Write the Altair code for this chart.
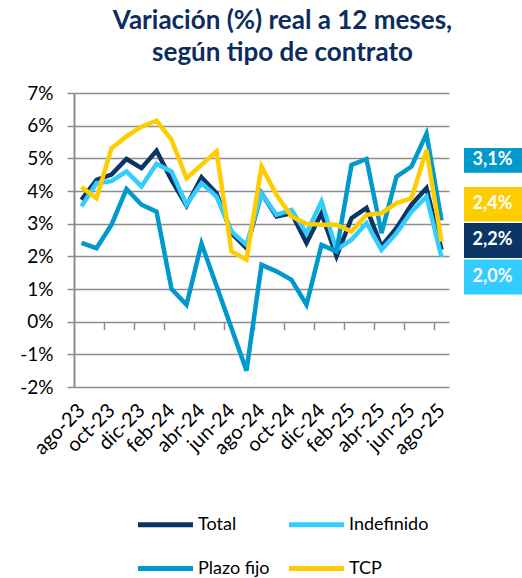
import altair as alt
import pandas as pd

months = ["ago-23", "sep-23", "oct-23", "nov-23", "dic-23", "ene-24", "feb-24",
          "mar-24", "abr-24", "may-24", "jun-24", "jul-24", "ago-24", "sep-24",
          "oct-24", "nov-24", "dic-24", "ene-25", "feb-25", "mar-25", "abr-25",
          "may-25", "jun-25", "jul-25", "ago-25"]

total = [3.73, 4.34, 4.5, 4.98, 4.7, 5.23, 4.34, 3.55, 4.42, 3.93, 2.71, 2.25, 3.93,
         3.22, 3.32, 2.41, 3.32, 2.0, 3.17, 3.48, 2.3, 2.87, 3.58, 4.09, 2.2]
indefinido = [3.53, 4.24, 4.3, 4.6, 4.14, 4.83, 4.6, 3.58, 4.24, 3.83, 2.76, 2.35, 3.93,
              3.27, 3.42, 2.71, 3.68, 2.2, 2.51, 3.02, 2.2, 2.71, 3.37, 3.83, 1.98]
plazo_fijo = [2.41, 2.25, 2.97, 4.06, 3.58, 3.37, 1.0, 0.52, 2.39, 1.1, -0.2, -1.5, 1.74,
              1.54, 1.28, 0.52, 2.35, 2.15, 4.8, 4.98, 2.71, 4.44, 4.75, 5.75, 3.1]
tcp = [4.12, 3.78, 5.31, 5.67, 5.97, 6.15, 5.57, 4.39, 4.8, 5.21, 2.15, 1.9, 4.75,
       3.88, 3.22, 3.0, 2.97, 2.97, 2.76, 3.27, 3.32, 3.63, 3.78, 5.26, 2.45]

series_names = ["Total", "Indefinido", "Plazo fijo", "TCP"]
series_colors = ["#0B3564", "#33CCFF", "#0099CC", "#FFCC00"]
legend_order = ["Total", "Plazo fijo", "Indefinido", "TCP"]

# end-of-period labels (text) and their stacked box slots
end_labels = ["3,1%", "2,4%", "2,2%", "2,0%"]
end_colors = ["#0099CC", "#FFCC00", "#0B3564", "#33CCFF"]
box_y_top = [5.32, 4.12, 3.02, 1.9]
box_y_bot = [4.56, 3.07, 1.95, 0.83]

FONT = "Lato"
W, H = 375, 294
PAD_L, PAD_T = 74, 93

rows = []
for name, vals in zip(series_names, [total, indefinido, plazo_fijo, tcp]):
    for i, v in enumerate(vals):
        rows.append({"idx": i, "mes": months[i], "serie": name, "valor": v})
df = pd.DataFrame(rows)

lab_df = pd.DataFrame({
    "txt": end_labels, "col": end_colors,
    "y1": box_y_top, "y2": box_y_bot,
    "ym": [(a + b) / 2 for a, b in zip(box_y_top, box_y_bot)],
})

label_expr = "[" + ",".join("'%s'" % m for m in months) + "][round(datum.value)]"

xscale = alt.Scale(domain=[-0.5, 24.5], nice=False, zero=False)
yscale = alt.Scale(domain=[-2, 7], nice=False, zero=False)

lines = alt.Chart(df).mark_line(strokeWidth=4.5, strokeJoin="miter", clip=False).encode(
    x=alt.X("idx:Q", scale=xscale,
            axis=alt.Axis(values=list(range(0, 25, 2)), labelExpr=label_expr,
                          labelAngle=-45, labelAlign="right", labelBaseline="middle",
                          labelFont=FONT, labelFontSize=20, labelColor="#000000",
                          labelPadding=20, ticks=False, domain=False, grid=False,
                          title=None, orient="bottom", labelOverlap=False)),
    y=alt.Y("valor:Q", scale=yscale,
            axis=alt.Axis(values=list(range(-2, 8)), labelExpr="datum.value + '%'",
                          labelFont=FONT, labelFontSize=19, labelColor="#000000",
                          labelPadding=14, tickSize=7, tickColor="#8C8C8C", tickWidth=1.5,
                          domainColor="#8C8C8C", domainWidth=2, labelOverlap=False,
                          grid=True, gridColor="#8C8C8C", gridWidth=1.5, title=None,
                          orient="left")),
    color=alt.Color("serie:N", scale=alt.Scale(domain=series_names, range=series_colors),
                    legend=alt.Legend(orient="none", legendX=78, legendY=418, columns=2,
                                      values=legend_order,
                                      title=None, symbolType="M-2.5,0H2.5", symbolSize=484,
                                      symbolStrokeWidth=5, labelFont=FONT, labelFontSize=18,
                                      labelColor="#000000", columnPadding=9, rowPadding=20,
                                      labelOffset=19)),
    order=alt.Order("idx:Q"),
    detail="serie:N",
)

# tick marks along the 0% line (secondary x axis)
ticks_layer = alt.Chart(df[df.serie == "Total"]).mark_point(opacity=0).encode(
    x=alt.X("idx:Q", scale=xscale,
            axis=alt.Axis(values=[1.5 + 2 * k for k in range(12)], labels=False,
                          ticks=True, tickSize=8, tickColor="#8C8C8C", tickWidth=1.5,
                          domain=False, grid=False, title=None, orient="bottom",
                          offset=-(H * 2 / 9))),
    y=alt.Y("valor:Q", scale=yscale, axis=None),
)

boxes = alt.Chart(lab_df).mark_rect(clip=False).encode(
    x=alt.datum(25.5, scale=xscale, axis=None),
    x2=alt.datum(29.5),
    y=alt.Y("y1:Q", scale=yscale, axis=None),
    y2="y2:Q",
    color=alt.Color("col:N", scale=None),
)
texts = alt.Chart(lab_df).mark_text(font=FONT, fontSize=18, fontWeight="bold",
                                    color="white", clip=False).encode(
    x=alt.datum(27.4, scale=xscale, axis=None),
    y=alt.Y("ym:Q", scale=yscale, axis=None),
    text="txt:N",
)

chart = alt.layer(lines, ticks_layer, boxes, texts).resolve_axis(
    x="independent", y="independent").properties(
    width=W, height=H,
    autosize=alt.AutoSizeParams(type="none"),
    padding={"left": PAD_L, "top": PAD_T, "right": 522 - PAD_L - W, "bottom": 578 - PAD_T - H},
    title=alt.TitleParams(["Variación (%) real a 12 meses,", "según tipo de contrato"],
                          font=FONT, fontSize=26, fontWeight="bold", color="#0B2D5E",
                          anchor="middle", dx=21, offset=18, lineHeight=32),
).configure_view(stroke=None)

chart.save("out.html", embed_options={"renderer": "svg", "actions": False})
